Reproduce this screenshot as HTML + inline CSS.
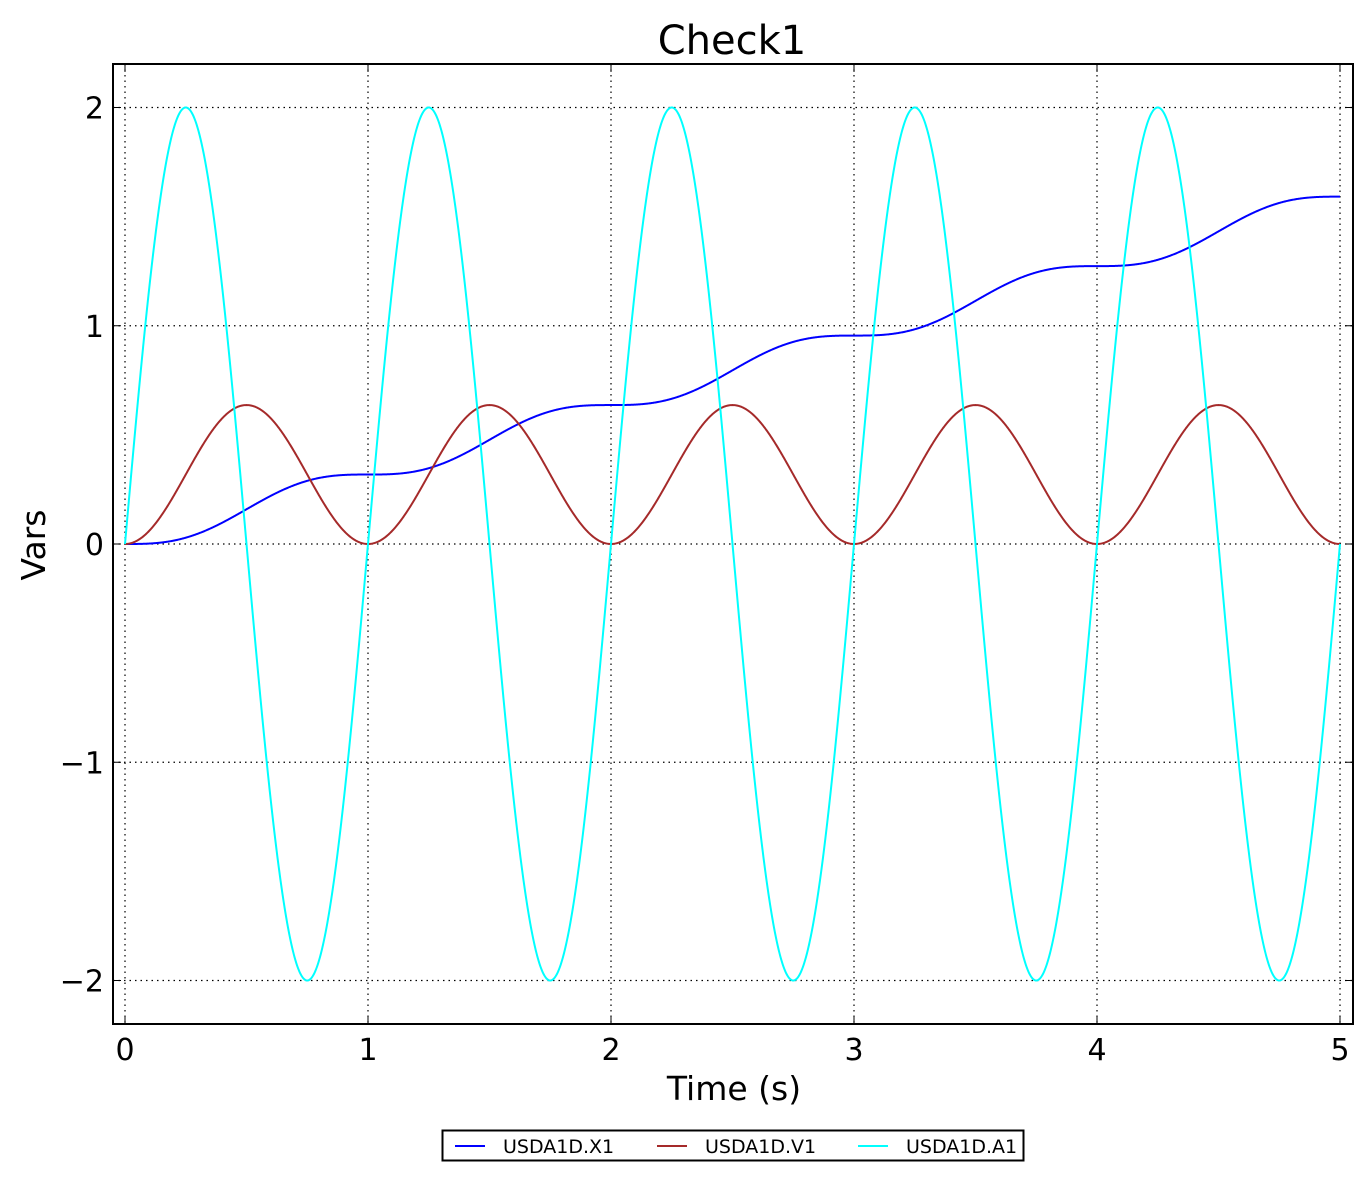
<!DOCTYPE html>
<html><head><meta charset="utf-8"><style>
html,body{margin:0;padding:0;background:#fff;}
svg text{font-family:"DejaVu Sans","Liberation Sans",sans-serif;fill:#000;}
</style></head><body>
<svg id="s" width="1372" height="1180" xmlns="http://www.w3.org/2000/svg">
<rect width="1372" height="1180" fill="#fff"/>
<g id="grid" stroke="#000" stroke-width="1.2" stroke-dasharray="1.5,4"></g>
<g id="curves" fill="none" stroke-width="2"></g>
<rect x="113" y="64" width="1240" height="960" fill="none" stroke="#000" stroke-width="2"/>
<g id="ticks" stroke="#000" stroke-width="1"></g>
<g id="labels" font-size="30"></g>
<text x="732" y="54" font-size="40" text-anchor="middle">Check1</text>
<text x="734" y="1100" font-size="33" text-anchor="middle">Time (s)</text>
<text transform="translate(45,545) rotate(-90)" font-size="33" text-anchor="middle">Vars</text>
<rect x="442.5" y="1130.5" width="581" height="30" fill="#fff" stroke="#000" stroke-width="2"/>
<line x1="455" y1="1146" x2="485" y2="1146" stroke="#0000ff" stroke-width="2"/>
<text x="503" y="1153" font-size="19">USDA1D.X1</text>
<line x1="657" y1="1146" x2="687" y2="1146" stroke="#a52a2a" stroke-width="2"/>
<text x="705" y="1153" font-size="19">USDA1D.V1</text>
<line x1="858" y1="1146" x2="888" y2="1146" stroke="#00ffff" stroke-width="2"/>
<text x="906" y="1153" font-size="19">USDA1D.A1</text>
</svg>
<script>
(function(){
var NS="http://www.w3.org/2000/svg";
function X(t){return 125+t*243;}
function Y(v){return 544-v*218.25;}
function el(p,tag,a,txt){var e=document.createElementNS(NS,tag);for(var k in a)e.setAttribute(k,a[k]);if(txt)e.textContent=txt;document.getElementById(p).appendChild(e);}
for(var i=0;i<=5;i++){var x=X(i);
 el("grid","line",{x1:x,y1:64,x2:x,y2:1024});
 el("ticks","line",{x1:x,y1:1024,x2:x,y2:1016});el("ticks","line",{x1:x,y1:64,x2:x,y2:72});
 el("labels","text",{x:x,y:1060,"text-anchor":"middle"},String(i));}
for(var j=-2;j<=2;j++){var y=Y(j);
 el("grid","line",{x1:113,y1:y,x2:1353,y2:y});
 el("ticks","line",{x1:113,y1:y,x2:121,y2:y});el("ticks","line",{x1:1353,y1:y,x2:1345,y2:y});
 el("labels","text",{x:104,y:y+11,"text-anchor":"end"},j<0?"\u2212"+(-j):String(j));}
function path(f,c){var d="";for(var k=0;k<=2000;k++){var t=5*k/2000;d+=(k?"L":"M")+X(t).toFixed(2)+","+Y(f(t)).toFixed(2);}el("curves","path",{d:d,stroke:c});}
var P=Math.PI;
path(function(t){return (t-Math.sin(2*P*t)/(2*P))/P;},"#0000ff");
path(function(t){return (1-Math.cos(2*P*t))/P;},"#a52a2a");
path(function(t){return 2*Math.sin(2*P*t);},"#00ffff");
})();
</script>
</body></html>
